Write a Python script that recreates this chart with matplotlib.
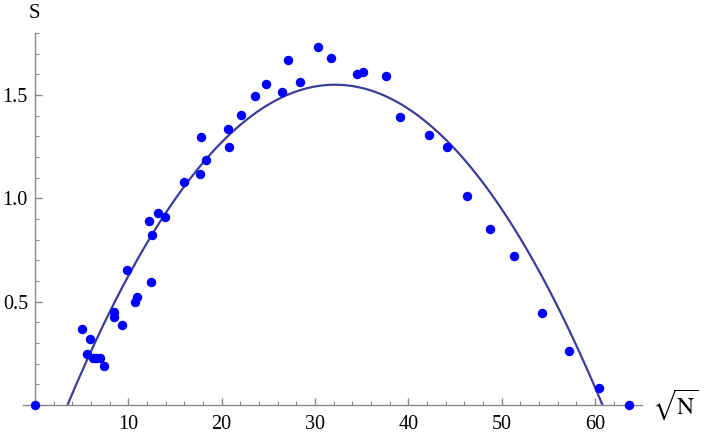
import numpy as np
import matplotlib
matplotlib.use("Agg")
import matplotlib.pyplot as plt
from matplotlib.ticker import FixedLocator

plt.rcParams['font.family'] = ['Liberation Serif', 'DejaVu Serif']
plt.rcParams['mathtext.fontset'] = 'stix'

# data points (sqrt(N), S)
sqrt_n = [0, 5.04, 5.89, 5.64, 6.2, 6.6, 6.95, 7.42, 8.46, 8.46, 9.29, 9.85,
          10.72, 10.93, 12.21, 12.43, 12.6, 13.23, 13.9, 15.95, 17.65, 17.82,
          18.3, 20.64, 20.82, 22.07, 23.57, 24.79, 26.5, 27.15, 28.35, 30.29,
          31.75, 34.46, 35.11, 37.64, 39.11, 42.25, 44.14, 46.25, 48.75, 51.32,
          54.29, 57.18, 60.39, 63.68]
s_vals = [0, 0.367, 0.319, 0.247, 0.228, 0.226, 0.228, 0.19, 0.452, 0.427, 0.387,
          0.653, 0.500, 0.522, 0.89, 0.595, 0.822, 0.93, 0.91, 1.08, 1.118,
          1.298, 1.184, 1.335, 1.25, 1.401, 1.496, 1.553, 1.515, 1.667, 1.563,
          1.734, 1.677, 1.601, 1.61, 1.591, 1.392, 1.306, 1.25, 1.013, 0.851,
          0.721, 0.444, 0.263, 0.084, 0]

# fitted quadratic: S = c0 + c1*x + c2*x^2
fit_coeffs = [-0.40177, 0.12140, -0.001888]

x_ticks = [10, 20, 30, 40, 50, 60]
y_ticks = [0.5, 1.0, 1.5]
y_tick_labels = ["0.5", "1.0", "1.5"]

fig = plt.figure(figsize=(7.06, 4.37), dpi=100)
ax = fig.add_axes([22.7/706, (437-405)/437, (641.7-22.7)/706, (405-33)/437])

xs = np.linspace(0, 65, 600)
ys = fit_coeffs[0] + fit_coeffs[1]*xs + fit_coeffs[2]*xs**2
ax.plot(xs, ys, color=(0.24, 0.24, 0.6), lw=1.6, zorder=2)
ax.plot(sqrt_n, s_vals, 'o', color=(0, 0, 1), ms=6.8, mew=0, zorder=3, clip_on=False)

ax.set_xlim(-1.3, 65)
ax.set_ylim(0, 1.8)

for sp in ['top', 'right']:
    ax.spines[sp].set_visible(False)
ax.spines['left'].set_position(('data', 0))
ax.spines['bottom'].set_position(('data', 0))
axis_col = '#888888'
ax.spines['left'].set_color(axis_col)
ax.spines['bottom'].set_color(axis_col)
ax.spines['left'].set_linewidth(1.0)
ax.spines['bottom'].set_linewidth(1.0)

ax.xaxis.set_major_locator(FixedLocator(x_ticks))
ax.xaxis.set_minor_locator(FixedLocator([v for v in np.arange(2, 65, 2) if v % 10 != 0]))
ax.yaxis.set_major_locator(FixedLocator(y_ticks))
ax.set_yticklabels(y_tick_labels)
ax.yaxis.set_minor_locator(FixedLocator([round(v, 1) for v in np.arange(0.1, 1.81, 0.1) if round(v*10) % 5 != 0]))

ax.tick_params(which='major', direction='in', length=5, width=1.0, color=axis_col,
               labelsize=14.5, labelcolor='black')
ax.tick_params(which='minor', direction='in', length=3, width=0.8, color=axis_col)
ax.tick_params(axis='x', which='major', pad=7)
ax.tick_params(axis='y', which='major', pad=5)

ax.text(0, 1.895, 'S', ha='center', va='center', fontsize=15, clip_on=False)
ax.text(66.1, 0.0, r'$\sqrt{\mathrm{N}}$', ha='left', va='center', fontsize=17, clip_on=False)

fig.savefig('out.png', dpi=100)
